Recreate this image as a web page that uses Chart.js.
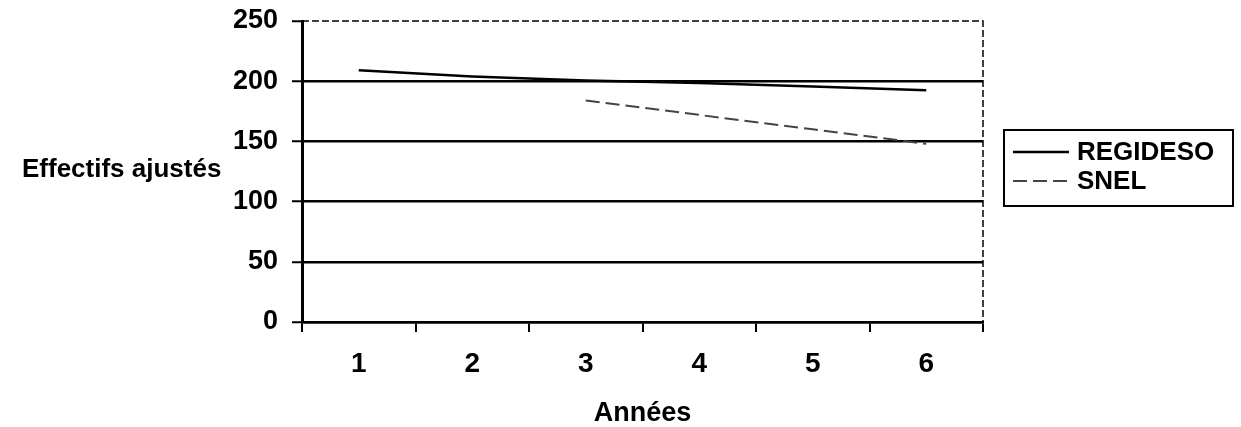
<!DOCTYPE html>
<html>
<head>
<meta charset="utf-8">
<script src="https://cdn.jsdelivr.net/npm/chart.js@4.4.1/dist/chart.umd.min.js"></script>
<style>
  html, body { margin: 0; padding: 0; background: #fff; }
  #wrap { width: 1241px; height: 427px; position: relative; }
</style>
</head>
<body>
<div id="wrap"><canvas id="chart"></canvas></div>
<script>
// data
const years = ['1', '2', '3', '4', '5', '6'];
const regideso = [209, 204, 200.5, 198.5, 195.5, 192.5];
const snel = [null, null, 184, 172, 160, 148];
const yTicks = [0, 50, 100, 150, 200, 250];
const seriesNames = ['REGIDESO', 'SNEL'];
const yTitle = 'Effectifs ajustés';
const xTitle = 'Années';

const FONT = '"Liberation Sans", Arial, Helvetica, sans-serif';
const bold = (size, lineHeight) => ({ family: FONT, size, weight: 'bold', lineHeight: lineHeight || 1.2 });

// dashed top / right edge of the plot box
const frame = {
  id: 'frame',
  beforeDatasetsDraw(chart) {
    const { ctx, chartArea: a } = chart;
    ctx.save();
    ctx.strokeStyle = '#000';
    ctx.lineWidth = 1.5;
    ctx.setLineDash([7, 3]);
    ctx.beginPath();
    ctx.moveTo(a.left, a.top);
    ctx.lineTo(a.right, a.top);
    ctx.lineTo(a.right, a.bottom);
    ctx.stroke();
    ctx.restore();
  }
};

// horizontal y title on the left
const sideTitle = {
  id: 'sideTitle',
  afterDraw(chart) {
    const { ctx, chartArea: a } = chart;
    ctx.save();
    ctx.font = `bold 26px ${FONT}`;
    ctx.fillStyle = '#000';
    ctx.textAlign = 'left';
    ctx.textBaseline = 'middle';
    ctx.fillText(yTitle, 22, (a.top + a.bottom) / 2 - 2);
    ctx.restore();
  }
};

// boxed legend at the right
const sideLegend = {
  id: 'sideLegend',
  afterDraw(chart) {
    const { ctx, chartArea: a } = chart;
    const x0 = a.right + 21, y0 = 130, w = 229, h = 76;
    ctx.save();
    ctx.strokeStyle = '#000';
    ctx.lineWidth = 2;
    ctx.strokeRect(x0, y0, w, h);
    ctx.font = `bold 26px ${FONT}`;
    ctx.textAlign = 'left';
    ctx.textBaseline = 'middle';
    ctx.fillStyle = '#000';
    chart.data.datasets.forEach((ds, i) => {
      const cy = y0 + 22 + i * 29;
      ctx.strokeStyle = ds.borderColor;
      ctx.lineWidth = ds.borderWidth;
      ctx.setLineDash(ds.borderDash || []);
      ctx.beginPath();
      ctx.moveTo(x0 + 9, cy);
      ctx.lineTo(x0 + 65, cy);
      ctx.stroke();
      ctx.setLineDash([]);
      ctx.fillText(ds.label, x0 + 73, cy + 1);
    });
    ctx.restore();
  }
};

new Chart(document.getElementById('chart'), {
  type: 'line',
  data: {
    labels: years,
    datasets: [
      {
        label: seriesNames[0],
        data: regideso,
        borderColor: '#000',
        borderWidth: 2.5,
        pointRadius: 0,
        tension: 0,
        fill: false
      },
      {
        label: seriesNames[1],
        data: snel,
        borderColor: '#444',
        borderWidth: 2,
        borderDash: [14, 6],
        pointRadius: 0,
        tension: 0,
        fill: false
      }
    ]
  },
  options: {
    responsive: true,
    maintainAspectRatio: false,
    animation: false,
    layout: { padding: { top: 21, right: 258, bottom: 0, left: 0 } },
    plugins: { legend: { display: false }, tooltip: { enabled: false } },
    scales: {
      x: {
        offset: true,
        afterFit: s => { s.height = 105; },
        grid: { offset: true, drawOnChartArea: false, color: '#000', lineWidth: 2, tickLength: 10 },
        border: { color: '#000', width: 2.5 },
        ticks: { color: '#000', font: bold(28), padding: 15, maxRotation: 0 },
        title: { display: true, text: xTitle, color: '#000', font: bold(27, 1.0), padding: 0 }
      },
      y: {
        min: 0,
        max: 250,
        afterBuildTicks: s => { s.ticks = yTicks.map(v => ({ value: v })); },
        afterFit: s => { s.width = 302; s.paddingTop = 0; s.paddingBottom = 0; },
        grid: {
          color: c => (c.tick && c.tick.value === 250) ? 'rgba(0,0,0,0)' : '#000',
          lineWidth: 2.5,
          tickColor: '#000',
          tickWidth: 2,
          tickLength: 10
        },
        border: { color: '#000', width: 3 },
        ticks: { color: '#000', font: bold(27), padding: 14 }
      }
    }
  },
  plugins: [frame, sideTitle, sideLegend]
});
</script>
</body>
</html>
